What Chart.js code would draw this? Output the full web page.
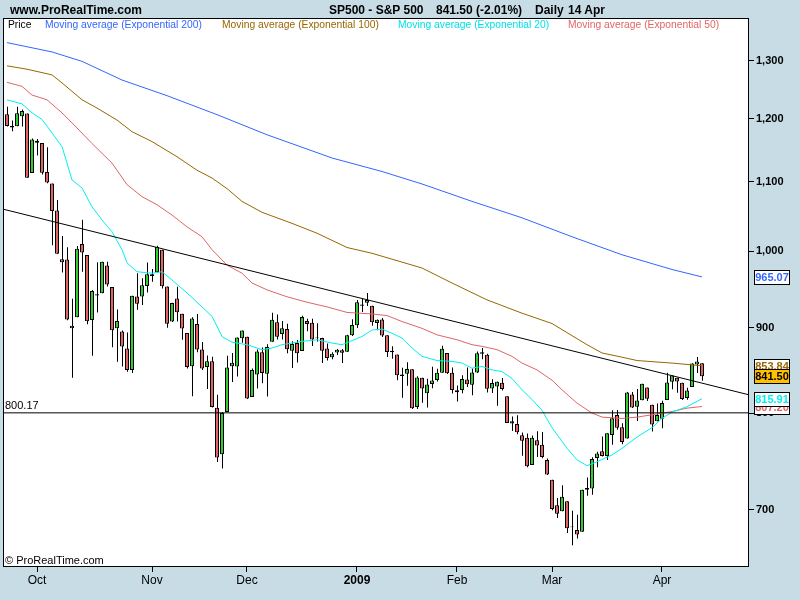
<!DOCTYPE html>
<html>
<head>
<meta charset="utf-8">
<script src="https://cdn.jsdelivr.net/npm/chart.js@4.4.1/dist/chart.umd.min.js"></script>
<style>
html,body{margin:0;padding:0;background:#C8DCE6;}
#wrap{position:relative;width:800px;height:600px;overflow:hidden;}
#c{position:absolute;left:0;top:0;}
.t{position:absolute;white-space:pre;line-height:1;font-family:"Liberation Sans",Arial,sans-serif;}
.h{font-weight:bold;font-size:12px;top:4px;color:#000;}
.l{font-size:10.3px;top:20px;}
</style>
</head>
<body>
<div id="wrap">
<canvas id="c" width="800" height="600"></canvas>
<div class="t h" style="left:10px">www.ProRealTime.com</div>
<div class="t h" style="left:329px">SP500 - S&amp;P 500</div>
<div class="t h" style="left:436px">841.50 (-2.01%)</div>
<div class="t h" style="left:535px">Daily</div>
<div class="t h" style="left:568px">14 Apr</div>
<div class="t l" style="left:8px;color:#000">Price</div>
<div class="t l" style="left:45px;color:#3366FF">Moving average (Exponential 200)</div>
<div class="t l" style="left:222px;color:#996600">Moving average (Exponential 100)</div>
<div class="t l" style="left:398px;color:#00E0E8">Moving average (Exponential 20)</div>
<div class="t l" style="left:568px;color:#E06666">Moving average (Exponential 50)</div>
</div>
<script>
// ---------- DATA ----------
const dates = ['Sep 23','Sep 24','Sep 25','Sep 26','Sep 29','Sep 30',
'Oct 1','Oct 2','Oct 3','Oct 6','Oct 7','Oct 8','Oct 9','Oct 10','Oct 13','Oct 14','Oct 15','Oct 16','Oct 17','Oct 20','Oct 21','Oct 22','Oct 23','Oct 24','Oct 27','Oct 28','Oct 29','Oct 30','Oct 31',
'Nov 3','Nov 4','Nov 5','Nov 6','Nov 7','Nov 10','Nov 11','Nov 12','Nov 13','Nov 14','Nov 17','Nov 18','Nov 19','Nov 20','Nov 21','Nov 24','Nov 25','Nov 26','Nov 28',
'Dec 1','Dec 2','Dec 3','Dec 4','Dec 5','Dec 8','Dec 9','Dec 10','Dec 11','Dec 12','Dec 15','Dec 16','Dec 17','Dec 18','Dec 19','Dec 22','Dec 23','Dec 24','Dec 26','Dec 29','Dec 30','Dec 31',
'Jan 2','Jan 5','Jan 6','Jan 7','Jan 8','Jan 9','Jan 12','Jan 13','Jan 14','Jan 15','Jan 16','Jan 20','Jan 21','Jan 22','Jan 23','Jan 26','Jan 27','Jan 28','Jan 29','Jan 30',
'Feb 2','Feb 3','Feb 4','Feb 5','Feb 6','Feb 9','Feb 10','Feb 11','Feb 12','Feb 13','Feb 17','Feb 18','Feb 19','Feb 20','Feb 23','Feb 24','Feb 25','Feb 26','Feb 27',
'Mar 2','Mar 3','Mar 4','Mar 5','Mar 6','Mar 9','Mar 10','Mar 11','Mar 12','Mar 13','Mar 16','Mar 17','Mar 18','Mar 19','Mar 20','Mar 23','Mar 24','Mar 25','Mar 26','Mar 27','Mar 30','Mar 31',
'Apr 1','Apr 2','Apr 3','Apr 6','Apr 7','Apr 8','Apr 9','Apr 13','Apr 14'];

const openP = [1207.61,1188.79,1187.87,1204.47,1209.07,1113.78,
1164.17,1160.64,1115.16,1097.56,1057.60,988.91,988.42,902.31,912.75,1009.97,994.60,909.53,942.29,943.51,980.40,951.67,899.08,895.22,874.28,848.92,939.51,939.38,953.11,
968.67,971.31,1001.84,952.40,907.44,936.75,917.15,893.39,853.13,904.36,873.23,852.34,859.03,805.87,755.84,801.20,853.40,852.90,886.89,
888.61,817.94,843.60,869.75,844.43,882.71,906.48,892.17,898.35,871.79,881.07,871.53,908.16,905.98,886.96,887.20,874.31,863.87,869.51,872.37,870.58,890.59,
902.99,929.17,931.17,927.45,905.73,909.91,890.40,869.79,867.28,841.99,844.45,849.64,806.77,839.74,822.16,832.50,837.30,845.73,868.89,845.69,
823.09,825.69,837.77,831.75,846.09,868.24,866.87,827.41,829.91,833.95,818.61,791.06,787.91,775.87,773.25,744.69,770.64,765.76,749.93,
729.57,704.44,698.60,708.27,684.04,680.76,679.28,719.59,720.89,751.97,758.84,753.88,776.01,797.92,784.58,772.31,820.60,806.81,814.06,828.68,809.07,790.88,
793.59,814.53,835.13,839.75,834.12,816.76,829.29,855.33,856.88];

const highP = [1220.00,1197.41,1220.03,1215.77,1209.07,1168.03,
1167.03,1160.64,1153.82,1097.56,1072.91,1021.06,1005.25,936.36,1006.93,1044.31,994.60,947.71,984.64,985.40,985.44,951.67,922.83,896.30,893.78,940.51,969.97,963.23,984.38,
975.57,1007.51,1001.84,952.40,931.46,951.95,917.15,893.39,913.01,916.88,882.29,865.90,864.57,820.52,801.20,865.60,868.94,887.68,896.25,
888.61,850.54,873.12,875.60,879.42,918.57,916.26,908.27,904.63,883.24,884.63,914.66,911.00,911.02,905.47,887.37,880.44,869.79,873.74,873.70,891.12,910.32,
934.73,936.63,943.85,927.45,910.00,911.93,890.40,877.02,867.28,851.59,858.13,849.64,841.72,839.74,838.61,852.53,850.45,877.86,868.89,851.66,
830.78,842.60,851.85,850.55,870.75,875.01,868.05,838.22,835.48,839.43,818.61,796.17,797.58,778.69,777.85,775.49,780.12,779.42,751.27,
729.57,711.67,724.12,708.27,699.09,695.27,719.60,731.92,752.63,758.29,774.53,778.12,803.04,803.24,788.91,823.37,823.65,826.78,832.98,828.68,809.07,810.48,
813.62,845.61,842.50,839.75,834.12,828.42,856.91,864.31,856.88];

const lowP = [1187.50,1179.79,1187.87,1187.54,1106.42,1113.78,
1140.77,1111.43,1098.14,1007.97,996.23,970.97,909.19,839.80,912.75,972.07,903.99,865.83,918.74,943.51,952.47,875.81,858.44,852.85,846.75,845.27,922.26,928.50,944.59,
958.82,971.31,949.86,899.73,906.90,907.47,884.90,850.48,818.69,869.88,848.98,826.84,806.18,747.78,741.02,801.20,834.99,841.37,881.21,
815.69,817.94,827.60,833.60,818.41,882.71,885.38,885.45,868.73,851.35,857.72,871.53,895.39,877.44,883.02,857.09,860.10,861.44,866.52,857.07,870.58,889.67,
899.35,919.53,927.28,902.37,896.81,888.31,864.32,862.02,836.93,817.04,830.66,804.47,804.30,811.29,806.07,827.69,835.40,845.73,844.15,821.67,
812.87,821.98,829.18,819.91,845.42,861.65,822.99,822.30,808.06,825.21,789.17,780.43,777.03,754.25,742.37,744.69,752.89,751.75,734.52,
699.70,692.30,698.60,677.93,666.79,672.88,679.28,713.85,714.76,742.46,753.37,749.93,765.64,781.82,766.20,772.31,805.48,791.37,814.06,813.43,779.81,790.88,
783.32,814.53,826.70,822.79,814.53,814.84,829.29,845.35,836.31];

const closeP = [1188.22,1185.87,1209.18,1213.27,1106.42,1166.36,
1161.06,1114.28,1099.23,1056.89,996.23,984.94,909.92,899.22,1003.35,998.01,907.84,946.43,940.55,985.40,955.05,896.78,908.11,876.77,848.92,940.51,930.09,954.09,968.75,
966.30,1005.75,952.77,904.88,930.99,919.21,898.95,852.30,911.29,873.29,850.75,859.12,806.58,752.44,800.03,851.81,857.39,887.68,896.24,
816.21,848.81,870.74,845.22,876.07,909.70,888.67,899.24,873.59,879.73,868.57,913.18,904.42,885.28,887.88,871.63,863.16,868.15,872.80,869.42,890.64,903.25,
931.80,927.45,934.70,906.65,909.73,890.35,870.26,871.79,842.62,843.74,850.12,805.22,840.24,827.50,831.95,836.57,845.71,874.09,845.14,825.88,
825.44,838.51,832.23,845.85,868.60,869.89,827.16,833.74,835.19,826.84,789.17,788.42,778.94,770.05,743.33,773.14,764.90,752.83,735.09,
700.82,696.33,712.87,682.55,683.38,676.53,719.60,721.36,750.74,756.55,753.89,778.12,794.35,784.04,768.54,822.92,806.12,813.88,832.86,815.94,787.53,797.87,
811.08,834.38,842.50,835.48,815.55,825.16,856.56,858.73,841.50];

// moving averages, read at sample bars (bar number, value)
const ema200Bar = [0,9,15,23,32,42,52,65,75,83,93,103,113,123,133,139];
const ema200Val = [1333,1316,1299,1266,1239,1207,1174,1137,1116,1097,1071,1047,1020,995,975,965.07];

const ema100Bar = [0,4,9,11,15,18,22,25,29,34,38,41,44,47,51,57,62,68,73,83,89,96,103,109,113,116,119,123,126,133,139];
const ema100Val = [1291,1285,1275,1261,1232,1218,1198,1179,1163,1139,1118,1106,1090,1071,1055,1039,1025,1005,997,977,957,935,918,905,890,879,869,864,860,857,853.84];

const ema50Bar = [0,3,5,8,11,14,17,21,24,27,30,33,36,39,41,44,47,49,52,56,60,64,68,73,76,79,83,86,90,93,95,98,101,103,106,109,111,114,117,119,123,126,129,133,136,139];
const ema50Val = [1262,1255,1240,1232,1210,1185,1160,1129,1096,1078,1066,1051,1034,1020,1002,981,970,957,948,939,932,926,919,917,915,907.5,899,891,885,879,877,873,865,857,849,837,826,811,800,795.5,794,795.5,798,801.6,805.4,807.2];

const ema20Bar = [0,3,5,7,9,11,12,13,15,17,19,21,23,24,26,29,31,33,36,39,41,43,45,48,51,53,55,59,62,65,67,71,73,75,77,79,81,83,86,89,91,93,95,97,99,101,103,105,107,109,112,114,116,118,121,123,126,129,131,133,136,139];
const ema20Val = [1232,1225,1210,1199,1177,1155,1129,1103,1091,1063,1044,1027,1002,984,972,970,972,961,944,926,914,889,882,879,873,875,879,883,885,881,879,889,897,898,893,887,875,865,860,859,857,851,853,849,847,839,826,815,803,784,762,750,744,748,755,762,774,784,794,801,807,815.91];

// trend line (bar number, value) and horizontal support level
const trendBar = [-0.8, 148.4];
const trendVal = [1059.6, 820.3];
const supportLevel = 800.17;

// axis ticks
const monthTickDates = ['Oct 1','Nov 3','Dec 1','Jan 2','Feb 2','Mar 2','Apr 1'];
const monthTickLabels = ['Oct','Nov','Dec','2009','Feb','Mar','Apr'];
const yTickValues = [700,800,900,1000,1100,1200,1300];

// ---------- STYLE ----------
const BG = '#C8DCE6';
const UP = '#33CC33', DOWN = '#E06464';
const BLUE = '#3366FF', BROWN = '#996600', CYAN = '#00F0F0', RED = '#E06666';
const SANS = '"Liberation Sans", Arial, sans-serif';
const NARROW = '"Liberation Sans Narrow", "Arial Narrow", "Liberation Sans", sans-serif';
const X_MIN = -0.8, X_MAX = 148.4;

const monthTickIdx = monthTickDates.map(d => dates.indexOf(d));
const pairs = (xs, ys) => xs.map((x, k) => ({x, y: ys[k]}));
const last = a => a[a.length - 1];

const decor = {
  id: 'decor',
  beforeDraw(chart) {
    const {ctx, chartArea: a} = chart;
    ctx.save();
    ctx.fillStyle = BG;
    ctx.fillRect(0, 0, chart.width, chart.height);
    ctx.fillStyle = '#fff';
    ctx.fillRect(a.left, a.top, a.right - a.left, a.bottom - a.top);
    ctx.restore();
  },
  afterDatasetsDraw(chart) {
    const {ctx, chartArea: a, scales} = chart;
    ctx.save();
    ctx.strokeStyle = '#000';
    ctx.lineWidth = 1;
    ctx.strokeRect(a.left + 0.5, a.top + 0.5, a.right - a.left - 1, a.bottom - a.top - 1);
    const ys = scales.y.getPixelForValue(supportLevel);
    ctx.fillStyle = '#000';
    ctx.textAlign = 'left';
    ctx.textBaseline = 'bottom';
    ctx.font = '11px ' + SANS;
    ctx.fillText(supportLevel.toFixed(2), a.left + 2, ys - 1);
    ctx.font = '11px ' + NARROW;
    ctx.fillText('\u00A9 ProRealTime.com', a.left + 2, a.bottom - 1);
    ctx.restore();
  },
  afterDraw(chart) {
    const {ctx, chartArea: a, scales} = chart;
    const boxes = [
      {v: last(ema50Val), fg: RED, bg: '#fff'},
      {v: last(ema20Val), fg: CYAN, bg: '#fff'},
      {v: last(ema200Val), fg: BLUE, bg: '#fff'},
      {v: last(ema100Val), fg: BROWN, bg: '#fff'},
      {v: last(closeP), fg: '#000', bg: '#FFC000'}
    ];
    ctx.save();
    ctx.font = 'bold 11px ' + SANS;
    ctx.textAlign = 'center';
    ctx.textBaseline = 'middle';
    boxes.forEach(b => {
      const py = scales.y.getPixelForValue(b.v);
      const top = Math.round(py - 7);
      const left = a.right + 5;
      ctx.fillStyle = b.bg;
      ctx.fillRect(left, top, 36, 15);
      ctx.strokeStyle = '#000';
      ctx.lineWidth = 1;
      ctx.strokeRect(left + 0.5, top + 0.5, 35, 14);
      ctx.fillStyle = b.fg;
      ctx.fillText(b.v.toFixed(2), left + 18, top + 8);
    });
    ctx.restore();
  }
};

const lineDs = (label, data, color, order) => ({
  type: 'line', label, data, xAxisID: 'x',
  borderColor: color, borderWidth: 1, pointRadius: 0, tension: 0, fill: false, order
});

new Chart(document.getElementById('c'), {
  type: 'bar',
  data: {
    datasets: [
      {
        label: 'wicks', xAxisID: 'xw',
        data: dates.map((d, i) => ({x: i, y: [lowP[i], highP[i]]})),
        backgroundColor: '#000', borderWidth: 0, barThickness: 1,
        grouped: false, inflateAmount: 0, order: 20
      },
      {
        label: 'Price', xAxisID: 'x',
        data: dates.map((d, i) => ({x: i, y: [openP[i], closeP[i]]})),
        backgroundColor: dates.map((d, i) => closeP[i] >= openP[i] ? UP : DOWN),
        borderColor: '#000', borderWidth: 1, borderSkipped: false,
        barThickness: 4, grouped: false, inflateAmount: 0, order: 19
      },
      lineDs('EMA 200', pairs(ema200Bar, ema200Val), BLUE, 6),
      lineDs('EMA 100', pairs(ema100Bar, ema100Val), BROWN, 5),
      lineDs('EMA 50', pairs(ema50Bar, ema50Val), RED, 4),
      lineDs('EMA 20', pairs(ema20Bar, ema20Val), CYAN, 3),
      lineDs('Trend', pairs(trendBar, trendVal), '#000', 2),
      lineDs('Support', [{x: X_MIN, y: supportLevel}, {x: X_MAX, y: supportLevel}], '#000', 1)
    ]
  },
  options: {
    responsive: false,
    animation: false,
    events: [],
    layout: {padding: {left: 3, top: 18, right: 0, bottom: 0}},
    plugins: {legend: {display: false}, tooltip: {enabled: false}, title: {display: false}},
    scales: {
      x: {
        type: 'linear', position: 'bottom', min: X_MIN, max: X_MAX, offset: false,
        afterBuildTicks: s => { s.ticks = monthTickIdx.map(v => ({value: v})); },
        afterFit: s => { s.height = 33; },
        grid: {offset: false, drawOnChartArea: false, drawTicks: true, tickLength: 5, tickColor: '#000', color: '#000'},
        border: {display: false},
        ticks: {
          autoSkip: false, maxRotation: 0, minRotation: 0, padding: 1, color: '#000',
          callback: v => monthTickLabels[monthTickIdx.indexOf(v)],
          font: c => ({family: NARROW, size: 12,
            weight: (c.tick && monthTickLabels[monthTickIdx.indexOf(c.tick.value)] === '2009') ? 'bold' : 'normal'})
        }
      },
      xw: {type: 'linear', display: false, min: X_MIN - 0.1, max: X_MAX - 0.1, offset: false, grid: {offset: false}},
      y: {
        type: 'logarithmic', position: 'right', min: 647, max: 1379,
        afterBuildTicks: s => { s.ticks = yTickValues.map(v => ({value: v})); },
        afterFit: s => { s.width = 51; },
        grid: {drawOnChartArea: false, drawTicks: true, tickLength: 5, tickColor: '#000', color: '#000'},
        border: {display: false},
        ticks: {
          padding: 2, color: '#000', font: {family: SANS, size: 11, weight: 'bold'},
          callback: v => Number(v).toLocaleString('en-US')
        }
      }
    }
  },
  plugins: [decor]
});
</script>
</body>
</html>
